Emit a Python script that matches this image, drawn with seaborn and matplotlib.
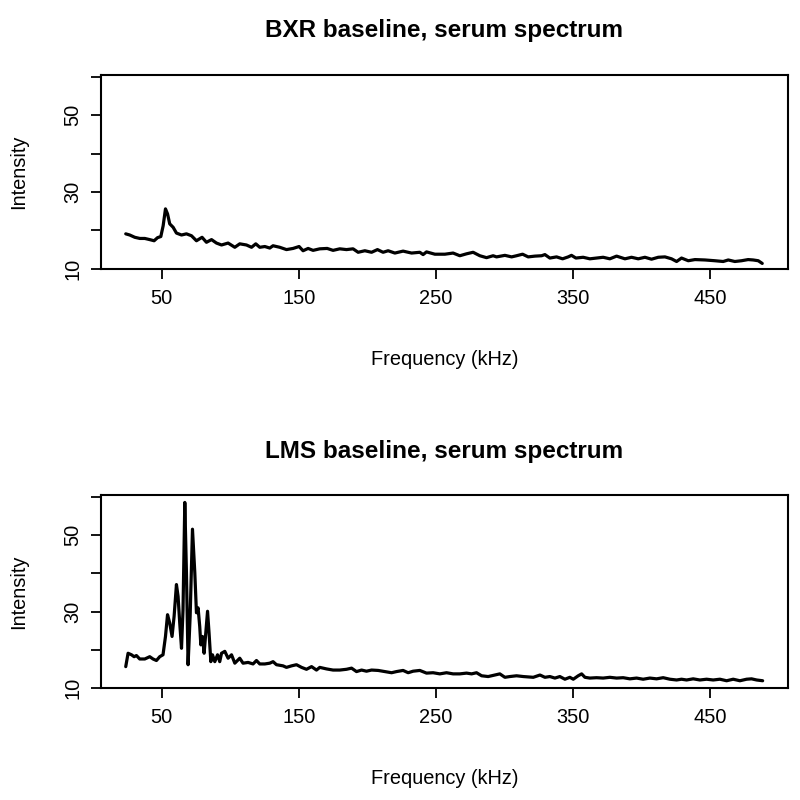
import matplotlib
matplotlib.use("Agg")
import matplotlib.pyplot as plt
import seaborn as sns

# BXR baseline spectrum (kHz, intensity)
bxr_freq = [23.7, 26.6, 30.3, 34.0, 37.6, 41.2, 44.4, 46.9, 49.3, 51.0, 52.7, 54.2, 55.8, 58.3, 60.7,
            64.4, 68.0, 71.7, 75.3, 79.4, 82.6, 86.3, 89.9, 93.6, 98.4, 103.3, 106.9, 111.8, 115.5,
            118.6, 121.5, 125.2, 128.8, 131.2, 136.1, 141.0, 145.8, 150.2, 153.1, 156.8, 160.4, 165.3,
            170.7, 175.0, 179.9, 184.8, 189.6, 193.3, 198.2, 203.1, 207.4, 211.5, 215.2, 220.1, 226.1,
            232.3, 238.3, 240.7, 243.2, 249.3, 256.6, 262.6, 267.5, 272.4, 277.2, 282.1, 287.0, 291.8,
            294.3, 300.4, 305.3, 308.9, 313.3, 317.4, 322.3, 327.2, 329.6, 333.2, 338.1, 342.5, 346.6,
            349.0, 352.2, 357.5, 362.4, 367.3, 372.1, 377.0, 381.9, 388.0, 392.8, 397.7, 402.6, 407.4,
            412.3, 417.2, 422.0, 425.7, 429.3, 434.2, 439.1, 446.4, 453.6, 459.7, 463.4, 468.2, 473.1,
            477.9, 481.6, 485.3, 488.2]
bxr_intensity = [19.1, 18.8, 18.2, 17.9, 17.9, 17.6, 17.3, 18.1, 18.4, 21.2, 25.6, 24.3, 21.7, 20.8, 19.3,
                 18.8, 19.1, 18.6, 17.3, 18.2, 16.9, 17.6, 16.7, 16.2, 16.7, 15.6, 16.5, 16.2, 15.6,
                 16.5, 15.6, 15.8, 15.4, 16.0, 15.6, 15.0, 15.3, 15.8, 14.7, 15.3, 14.8, 15.2,
                 15.3, 14.8, 15.2, 15.0, 15.2, 14.3, 14.7, 14.3, 15.0, 14.3, 14.7, 14.1, 14.6,
                 14.1, 14.3, 13.7, 14.4, 13.8, 13.8, 14.1, 13.4, 13.9, 14.3, 13.4, 12.9, 13.4,
                 13.1, 13.5, 13.1, 13.4, 13.8, 13.1, 13.3, 13.4, 13.7, 12.8, 13.1, 12.6, 13.1,
                 13.5, 12.8, 13.0, 12.6, 12.8, 13.0, 12.6, 13.3, 12.6, 13.0, 12.6, 13.0, 12.5,
                 13.0, 13.1, 12.6, 11.9, 12.8, 12.1, 12.4, 12.3, 12.1, 11.9, 12.3, 11.9, 12.1,
                 12.4, 12.3, 12.1, 11.4]

# LMS baseline spectrum
lms_freq = [23.7, 25.4, 27.9, 29.8, 31.5, 33.9, 37.6, 41.2, 43.6, 46.1,
            48.5, 50.9, 52.7, 54.2, 55.8, 57.5, 59.0, 60.7, 61.9, 63.1,
            64.4, 65.5, 66.8, 68.0, 69.2, 70.7, 72.4, 74.1, 75.3, 76.5,
            77.7, 78.5, 79.7, 80.9, 82.1, 83.4, 84.5, 85.8, 87.0, 88.7,
            90.7, 92.3, 93.6, 96.0, 98.4, 100.9, 103.3, 106.9, 109.3, 113.0,
            116.6, 119.1, 121.5, 125.2, 128.8, 131.2, 133.7, 138.5, 141.0, 144.7,
            148.3, 152.0, 155.6, 159.3, 162.9, 165.3, 170.2, 175.0, 179.9, 184.8,
            188.5, 192.1, 195.8, 199.4, 203.1, 207.9, 212.8, 217.7, 221.3, 226.1,
            229.8, 233.4, 238.3, 243.2, 248.0, 252.9, 257.8, 262.6, 267.5, 272.4,
            276.1, 279.7, 283.4, 288.2, 293.1, 296.7, 300.4, 304.0, 308.9, 313.8,
            321.1, 326.0, 329.6, 333.2, 336.9, 340.5, 344.2, 347.8, 350.3, 353.9,
            356.4, 358.8, 362.4, 367.3, 372.1, 377.0, 381.9, 386.7, 391.6, 396.5,
            401.3, 406.2, 411.1, 415.9, 420.8, 425.7, 429.3, 433.0, 437.8, 442.7,
            447.6, 452.4, 457.3, 462.2, 467.0, 471.9, 476.8, 480.4, 484.1, 488.5]
lms_intensity = [15.6, 19.1, 18.7, 18.2, 18.5, 17.6, 17.6, 18.2, 17.6, 17.2,
                 18.2, 18.7, 23.5, 29.2, 27.0, 23.5, 28.8, 37.1, 34.0, 27.0,
                 20.4, 30.5, 58.6, 40.2, 16.1, 28.8, 51.6, 40.2, 29.7, 31.0,
                 26.1, 21.3, 23.5, 19.1, 24.4, 30.1, 24.4, 16.9, 18.7, 16.9,
                 18.7, 16.9, 19.1, 19.6, 17.8, 18.7, 16.5, 17.8, 16.5, 16.7,
                 16.3, 17.2, 16.3, 16.3, 16.5, 16.9, 16.1, 15.8, 15.4, 15.8,
                 16.1, 15.4, 14.9, 15.6, 14.7, 15.4, 15.0, 14.7, 14.7, 14.9,
                 15.2, 14.3, 14.7, 14.4, 14.7, 14.6, 14.3, 14.0, 14.3, 14.6,
                 14.0, 14.4, 14.6, 13.9, 14.0, 13.7, 14.0, 13.7, 13.7, 13.9,
                 13.7, 14.0, 13.2, 13.0, 13.4, 13.7, 12.8, 13.0, 13.2, 13.0,
                 12.8, 13.4, 12.8, 13.0, 12.6, 13.0, 12.3, 12.8, 12.3, 13.2,
                 13.7, 12.8, 12.6, 12.7, 12.6, 12.8, 12.6, 12.7, 12.4, 12.6,
                 12.3, 12.6, 12.4, 12.7, 12.3, 12.1, 12.3, 12.1, 12.4, 12.1,
                 12.3, 12.1, 12.3, 11.9, 12.3, 11.9, 12.3, 12.4, 12.1, 11.9]

titles = ["BXR baseline, serum spectrum", "LMS baseline, serum spectrum"]
x_ticks = [50, 150, 250, 350, 450]
y_ticks = [10, 20, 30, 40, 50, 60]
y_ticklabels = ["10", "", "30", "", "50", ""]

sns.set_style("ticks")
plt.rcParams["font.family"] = ["Liberation Sans", "DejaVu Sans"]
plt.rcParams["text.color"] = "black"
plt.rcParams["axes.labelcolor"] = "black"
plt.rcParams["xtick.color"] = "black"
plt.rcParams["ytick.color"] = "black"

fig = plt.figure(figsize=(8, 8), dpi=100)
ax_top = fig.add_axes([0.126, 0.664, 0.859, 0.2425])
ax_bot = fig.add_axes([0.126, 0.14, 0.859, 0.241])

panels = [(ax_top, bxr_freq, bxr_intensity, titles[0]),
          (ax_bot, lms_freq, lms_intensity, titles[1])]

for ax, freq, inten, title in panels:
    sns.lineplot(x=freq, y=inten, ax=ax, color="black", linewidth=2.3)
    ax.set_xlim(5.5, 507)
    ax.set_ylim(10, 60.5)
    ax.set_xticks(x_ticks)
    ax.set_yticks(y_ticks)
    ax.set_yticklabels(y_ticklabels, rotation=90, va="center")
    ax.tick_params(axis="both", length=7, width=1.3, labelsize=14.4, direction="out",
                   color="black", labelcolor="black")
    ax.tick_params(axis="x", pad=7.5)
    ax.tick_params(axis="y", pad=6.5)
    for sp in ax.spines.values():
        sp.set_visible(True)
        sp.set_linewidth(1.5)
        sp.set_color("black")
    ax.set_title(title, fontsize=17.5, fontweight="bold", pad=27, color="black")
    ax.set_xlabel("Frequency (kHz)", fontsize=14.4, labelpad=30, color="black")
    ax.set_ylabel("Intensity", fontsize=14.4, labelpad=25, color="black")

plt.savefig("out.png", dpi=100)
